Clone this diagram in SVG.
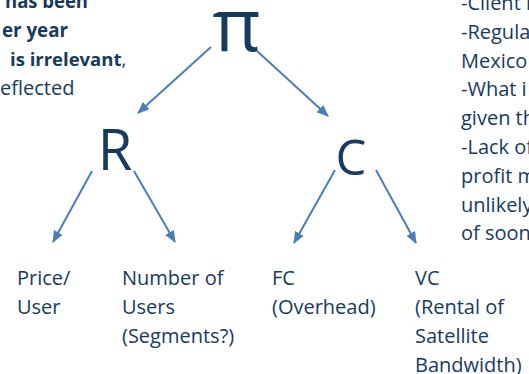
<svg xmlns="http://www.w3.org/2000/svg" width="529" height="374" viewBox="0 0 529 374">
<style>
text{font-family:"Open Sans","Noto Sans",sans-serif;fill:#173a60;}
.t{font-size:20px;}
.b{font-weight:bold;}
.big{text-anchor:middle;}
.c line{stroke:#4a7ebb;stroke-width:2;marker-end:url(#ah);}
</style>
<defs>
<marker id="ah" markerUnits="userSpaceOnUse" markerWidth="12" markerHeight="10" refX="11" refY="5" orient="auto">
<path d="M0,0 L12,5 L0,10 z" fill="#4a7ebb"/>
</marker>
</defs>
<rect width="529" height="374" fill="#ffffff"/>
<g id="note-left" class="t">
<text x="5" y="8" class="b" textLength="83" lengthAdjust="spacingAndGlyphs">has been</text>
<text x="2" y="37" class="b" textLength="66" lengthAdjust="spacingAndGlyphs">er year</text>
<text x="10" y="66" font-size="18.5"><tspan class="b">is irrelevant</tspan>,</text>
<text x="0" y="95">eflected</text>
</g>
<g id="note-right" class="t">
<text x="461" y="10">-Client i</text>
<text x="461" y="38.8">-Regula</text>
<text x="461" y="67.6">Mexico</text>
<text x="461" y="96.4">-What i</text>
<text x="461" y="125">given th</text>
<text x="461" y="154">-Lack of</text>
<text x="461" y="183">profit m</text>
<text x="461" y="212">unlikely</text>
<text x="461" y="240">of soon</text>
</g>
<g id="node-pi"><text class="big" x="236.5" y="51" font-size="74">π</text></g>
<g id="node-R"><text class="big" x="115" y="170" font-size="56">R</text></g>
<g id="node-C"><text class="big" x="351" y="175" font-size="49">C</text></g>
<g id="node-price" class="t"><text x="17" y="285">Price/</text><text x="17" y="314">User</text></g>
<g id="node-users" class="t"><text x="122" y="285">Number of</text><text x="122" y="314">Users</text><text x="122" y="343">(Segments?)</text></g>
<g id="node-fc" class="t"><text x="272" y="285">FC</text><text x="272" y="314">(Overhead)</text></g>
<g id="node-vc" class="t"><text x="415" y="285">VC</text><text x="415" y="314">(Rental of</text><text x="415" y="343">Satellite</text><text x="415" y="372">Bandwidth)</text></g>
<g id="connectors" class="c">
<line x1="211" y1="47" x2="138" y2="113"/>
<line x1="257" y1="51" x2="328" y2="116"/>
<line x1="92" y1="171" x2="53" y2="242"/>
<line x1="134" y1="171" x2="175" y2="242"/>
<line x1="335" y1="170" x2="294" y2="243"/>
<line x1="376" y1="170" x2="416" y2="243"/>
</g>
</svg>
